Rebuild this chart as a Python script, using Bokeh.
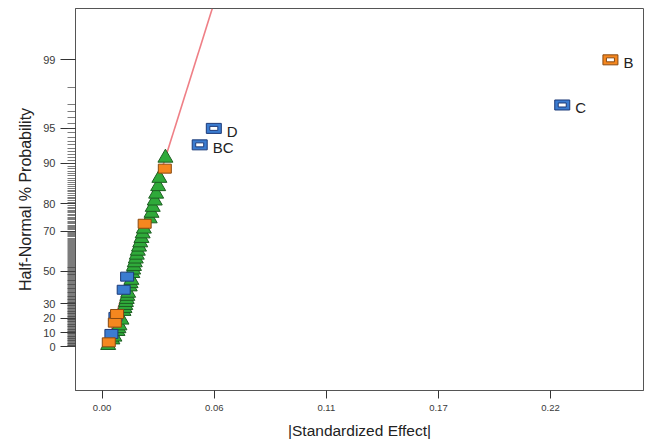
from statistics import NormalDist
from bokeh.plotting import figure
from bokeh.models import Range1d, FixedTicker, CustomJSTickFormatter, NumeralTickFormatter, ColumnDataSource
from bokeh.core.properties import value
from bokeh.embed import file_html
from bokeh.resources import INLINE

# |Standardized effect| of each term, in rank order (smallest first)
effects = [0.0030, 0.0033, 0.0051, 0.0061, 0.0046, 0.0076, 0.0081, 0.0086, 0.0063, 0.0096,
           0.0066, 0.0074, 0.0106, 0.0111, 0.0115, 0.0118, 0.0122, 0.0125, 0.0129, 0.0107,
           0.0137, 0.0141, 0.0145, 0.0124, 0.0150, 0.0154, 0.0158, 0.0162, 0.0167, 0.0172,
           0.0177, 0.0183, 0.0189, 0.0195, 0.0201, 0.0207, 0.0211, 0.0236, 0.0245, 0.0251,
           0.0261, 0.0268, 0.0278, 0.0284, 0.0311, 0.0314, 0.0484, 0.0554, 0.2282, 0.2521]
# Half-normal % probability of each term
percents = [1, 3, 5, 7, 9, 11, 13, 15, 17, 19,
            21, 23, 25, 27, 29, 31, 33, 35, 37, 39,
            41, 43, 45, 47, 49, 51, 53, 55, 57, 59,
            61, 63, 65, 67, 69, 71, 73, 75, 77, 79,
            81, 83, 85, 87, 89, 91, 93, 95, 97, 99]
# E = error estimate, P = positive effect, N = negative effect
kinds = ["E", "P", "E", "E", "N", "E", "E", "E", "P", "E",
         "N", "P", "E", "E", "E", "E", "E", "E", "E", "N",
         "E", "E", "E", "N", "E", "E", "E", "E", "E", "E",
         "E", "E", "E", "E", "E", "E", "P", "E", "E", "E",
         "E", "E", "E", "E", "P", "E", "N", "N", "N", "P"]
terms = [""] * 46 + ["BC", "D", "C", "B"]

# fitted line through the error estimates (effect, % probability)
line_effect = [0.0020, 0.0546]
line_pct = [0.0, 99.76]

y_tick_pcts = [0, 10, 20, 30, 50, 70, 80, 90, 95, 99]
x_ticks = [0.0, 0.0556, 0.1112, 0.1668, 0.2224]

nd = NormalDist()
def hn(p):
    return nd.inv_cdf(0.5 + p / 200.0)

z = [hn(p) for p in percents]

p = figure(width=648, height=444,
           x_range=Range1d(-0.0132, 0.2685), y_range=Range1d(-0.395, 3.037),
           output_backend="svg", toolbar_location=None,
           min_border_left=75, min_border_right=5, min_border_top=8, min_border_bottom=54)
p.grid.visible = False
p.outline_line_color = "#555555"
p.outline_line_width = 1
p.background_fill_color = "white"
p.border_fill_color = "white"

# axes
p.xaxis.ticker = FixedTicker(ticks=x_ticks)
p.xaxis.formatter = NumeralTickFormatter(format="0.00")
p.xaxis.axis_label = "|Standardized Effect|"
p.xaxis.major_tick_out = 8
p.xaxis.major_tick_in = 0
p.xaxis.minor_tick_out = 0
p.xaxis.major_label_standoff = 6
p.xaxis.axis_label_standoff = 8

minor = [k * 0.5 for k in range(0, 195)] + [98]
p.yaxis.ticker = FixedTicker(ticks=[hn(t) for t in y_tick_pcts], minor_ticks=[hn(t) for t in minor])
p.yaxis.formatter = CustomJSTickFormatter(
    args=dict(zs=[hn(t) for t in y_tick_pcts], labels=[str(t) for t in y_tick_pcts]),
    code="""
    for (let i = 0; i < zs.length; i++) { if (Math.abs(zs[i] - tick) < 1e-6) return labels[i]; }
    return "";
    """)
p.yaxis.axis_label = "Half-Normal % Probability"
p.yaxis.major_tick_out = 15
p.yaxis.major_tick_in = 0
p.yaxis.minor_tick_out = 8
p.yaxis.minor_tick_in = 0
p.yaxis.major_label_standoff = 5
p.yaxis.axis_label_standoff = 6

for ax in (p.xaxis, p.yaxis):
    ax.axis_line_color = "#555555"
    ax.major_tick_line_color = "#333333"
    ax.minor_tick_line_color = "#444444"
    ax.major_label_text_font = "Liberation Sans"
    ax.major_label_text_color = "#3a3a3a"
    ax.axis_label_text_font = "Liberation Sans"
    ax.axis_label_text_font_style = "normal"
    ax.axis_label_text_color = "#222222"
p.yaxis.minor_tick_line_width = 0.7
p.xaxis.major_label_text_font_size = "9.5px"
p.yaxis.major_label_text_font_size = "11px"
p.xaxis.axis_label_text_font_size = "15.5px"
p.yaxis.axis_label_text_font_size = "16px"

# fitted line
p.line([line_effect[0], line_effect[1]], [hn(line_pct[0]), hn(line_pct[1])],
       line_color="#ef7f86", line_width=1.6)

def sel(cond):
    idx = [i for i in range(len(effects)) if cond(i)]
    return ColumnDataSource(dict(x=[effects[i] for i in idx], y=[z[i] for i in idx],
                                 t=[terms[i] for i in idx]))

green = sel(lambda i: kinds[i] == "E")
p.scatter("x", "y", source=green, marker="triangle", size=15,
          fill_color="#2faa3a", line_color="#1d5e22", line_width=1)

col = {"P": ("#f5871f", "#8a4a10"), "N": ("#3b7cd0", "#1c3a78")}
for k in ("N", "P"):
    src = sel(lambda i, k=k: kinds[i] == k and terms[i] == "")
    p.rect("x", "y", source=src, width=13, height=9, width_units="screen", height_units="screen",
           fill_color=col[k][0], line_color=col[k][1], line_width=1)
    hsrc = sel(lambda i, k=k: kinds[i] == k and terms[i] != "")
    p.rect("x", "y", source=hsrc, width=15, height=10, width_units="screen", height_units="screen",
           fill_color=col[k][0], line_color=col[k][1], line_width=1)
    p.rect("x", "y", source=hsrc, width=8, height=4, width_units="screen", height_units="screen",
           fill_color="white", line_color=col[k][1], line_width=1)

lab = sel(lambda i: terms[i] != "")
p.text("x", "y", text="t", source=lab, x_offset=13, y_offset=3,
       text_font=value("Liberation Sans"), text_font_size="15px", text_color="#222222",
       text_baseline="middle", text_align="left")

open("out.html", "w").write(file_html(p, INLINE))
